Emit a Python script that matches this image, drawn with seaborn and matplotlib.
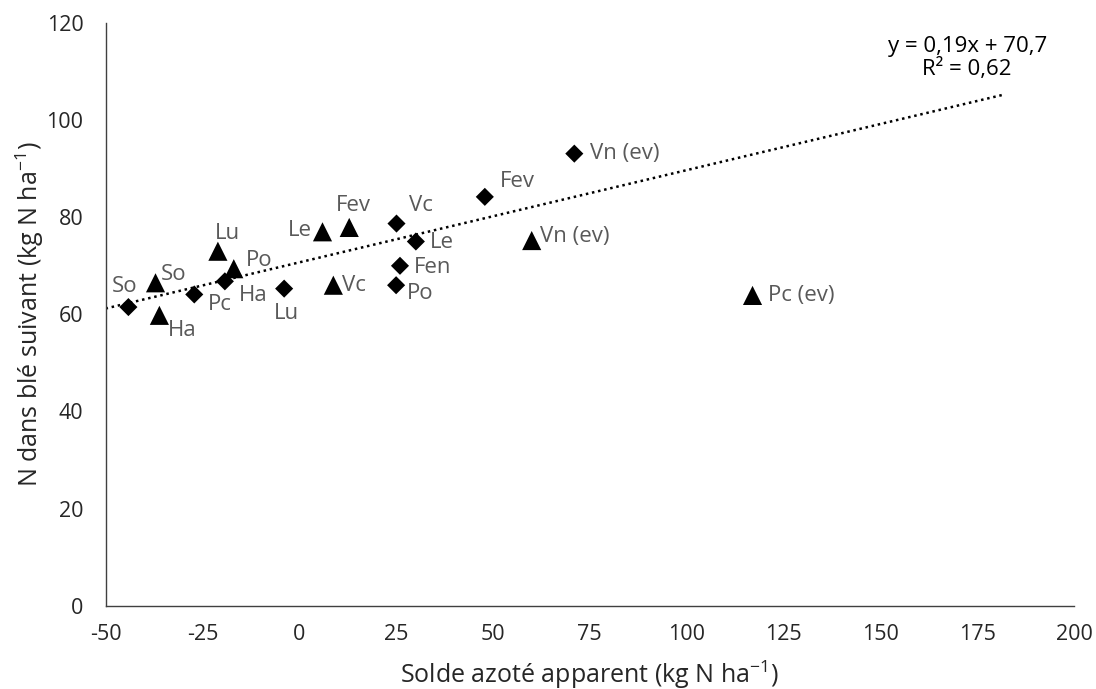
import matplotlib
matplotlib.use("Agg")
import matplotlib.pyplot as plt
import seaborn as sns
import numpy as np
import pandas as pd

sns.set_style("white")
plt.rcParams["font.family"] = ["Open Sans", "DejaVu Sans"]
plt.rcParams["mathtext.default"] = "regular"
plt.rcParams["axes.unicode_minus"] = False

# series 1 (diamonds)
diam_labels = ["So", "Pc", "Ha", "Lu", "Vc", "Le", "Fen", "Po", "Fev", "Vn (ev)"]
diam_x = [-44.1, -27.1, -19.2, -3.9, 25.1, 30.1, 26.0, 25.0, 47.9, 71.0]
diam_y = [61.5, 64.1, 66.8, 65.3, 78.7, 75.0, 70.0, 66.0, 84.2, 93.1]

# series 2 (triangles)
tri_labels = ["So", "Ha", "Lu", "Po", "Le", "Fev", "Vc", "Vn (ev)", "Pc (ev)"]
tri_x = [-37.1, -36.1, -21.0, -16.9, 6.0, 12.9, 8.8, 60.0, 117.0]
tri_y = [66.5, 59.8, 73.0, 69.4, 77.0, 77.9, 66.0, 75.2, 63.9]

# trend line
slope, intercept = 0.19, 70.7
trend_range = (-50, 182)

# label offsets in points (dx, dy, ha)
diam_offsets = [(-3, 15, "center"), (10, -7, "left"), (10, -10, "left"), (2, -18, "center"),
                (9, 13, "left"), (10, -1, "left"), (10, -1, "left"), (8, -6, "left"),
                (11, 11, "left"), (11, 0, "left")]
tri_offsets = [(4, 6, "left"), (6, -11, "left"), (7, 13, "center"), (9, 6, "left"),
               (-8, 1, "right"), (3, 16, "center"), (6, 0, "left"), (6, 3, "left"),
               (11, 0, "left")]

df = pd.DataFrame({
    "x": diam_x + tri_x,
    "y": diam_y + tri_y,
    "serie": ["a"] * len(diam_x) + ["b"] * len(tri_x),
})

fig = plt.figure(figsize=(10.96, 6.89), dpi=100)
ax = fig.add_axes([0.0963, 0.1209, 0.8837, 0.8457])

sns.scatterplot(data=df[df.serie == "a"], x="x", y="y", marker="D", s=85,
                color="black", edgecolor="none", ax=ax, legend=False, zorder=3)
sns.scatterplot(data=df[df.serie == "b"], x="x", y="y", marker="^", s=190,
                color="black", edgecolor="none", ax=ax, legend=False, zorder=3)

xs = np.linspace(trend_range[0], trend_range[1], 50)
ax.plot(xs, slope * xs + intercept, color="black", linestyle=(0, (1, 1.5)), linewidth=1.8, zorder=2)

grey = "#595959"
dark = "#262626"
for lab, x, y, (dx, dy, ha) in zip(diam_labels, diam_x, diam_y, diam_offsets):
    ax.annotate(lab, (x, y), xytext=(dx, dy), textcoords="offset points",
                ha=ha, va="center", fontsize=16, color=grey)
for lab, x, y, (dx, dy, ha) in zip(tri_labels, tri_x, tri_y, tri_offsets):
    ax.annotate(lab, (x, y), xytext=(dx, dy), textcoords="offset points",
                ha=ha, va="center", fontsize=16, color=grey)

ax.text(172.4, 112.8, "y = 0,19x + 70,7\nR² = 0,62", ha="center", va="center",
        fontsize=16, color="black", linespacing=1.1)

ax.set_xlim(-50, 200)
ax.set_ylim(0, 120)
ax.set_xticks(np.arange(-50, 201, 25))
ax.set_yticks(np.arange(0, 121, 20))
ax.tick_params(axis="y", direction="out", length=6, width=1, color="#404040",
               labelsize=15.5, labelcolor=dark, pad=10)
ax.tick_params(axis="x", direction="out", length=6, width=1, color="#404040",
               labelsize=15.5, labelcolor=dark, pad=7)
for side in ["top", "right"]:
    ax.spines[side].set_visible(False)
for side in ["left", "bottom"]:
    ax.spines[side].set_color("#404040")
    ax.spines[side].set_linewidth(1)

ax.set_xlabel("Solde azoté apparent (kg N ha$^{-1}$)", fontsize=18, color=dark, labelpad=10)
ax.set_ylabel("N dans blé suivant (kg N ha$^{-1}$)", fontsize=18, color=dark, labelpad=0)

fig.savefig("out.png", dpi=100)
